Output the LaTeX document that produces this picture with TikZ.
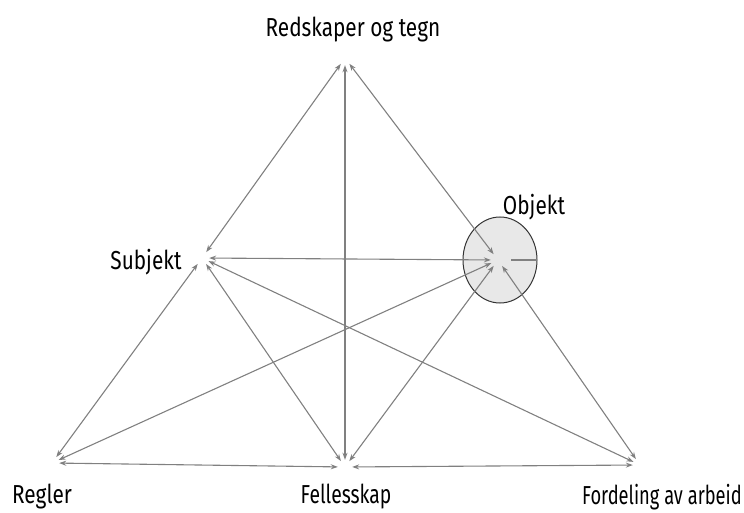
\documentclass[tikz,border=0pt]{standalone}
\usepackage{fontspec}
\setmainfont{Fira Sans}[FakeStretch=0.8]
\usetikzlibrary{arrows.meta,shapes.geometric}
\begin{document}
\begin{tikzpicture}[x=1pt,y=-1pt,
  pt/.style={inner sep=0pt,minimum size=0pt},
  arr/.style={draw=black!50,line width=1.1pt,{Stealth[length=7pt,width=5pt]}-{Stealth[length=7pt,width=5pt]},shorten <=7pt,shorten >=7pt},
  lbl/.style={font=\fontsize{26}{30}\selectfont,inner sep=0pt}]
\useasboundingbox (0,0) rectangle (744,513);
\node[draw=black!80,fill=black!9,line width=1pt,ellipse,minimum width=74pt,minimum height=86pt,inner sep=0pt] (ell) at (500,260) {};
\node[pt] (T) at (345,58) {};
\node[pt] (S) at (202,258) {};
\node[pt] (O) at (498,260) {};
\node[pt] (R) at (52,463) {};
\node[pt] (F) at (345,467) {};
\node[pt] (D) at (640,465) {};
\coordinate (Oe) at (537,260);
\draw[arr] (T) -- (S);
\draw[arr] (T) -- (O);
\draw[arr] (T) -- (F);
\draw[arr] (S) -- (O);
\draw[arr] (S) -- (R);
\draw[arr] (S) -- (F);
\draw[arr] (S) -- (D);
\draw[arr] (O) -- (R);
\draw[arr] (O) -- (F);
\draw[arr] (O) -- (D);
\draw[arr] (R) -- (F);
\draw[arr] (F) -- (D);
\draw[draw=black!50,line width=1.1pt,shorten <=13pt] (O) -- (Oe);
\node[lbl] (tT) at (353,30) {Redskaper og tegn};
\node[lbl] (tS) at (146,262) {Subjekt};
\node[lbl] (tO) at (534,207) {Objekt};
\node[lbl] (tR) at (42,497) {Regler};
\node[lbl] (tF) at (346,497) {\scalebox{0.93}[1]{Fellesskap}};
\node[lbl] (tD) at (662,497) {\scalebox{0.88}[1]{Fordeling av arbeid}};
\end{tikzpicture}
\end{document}
